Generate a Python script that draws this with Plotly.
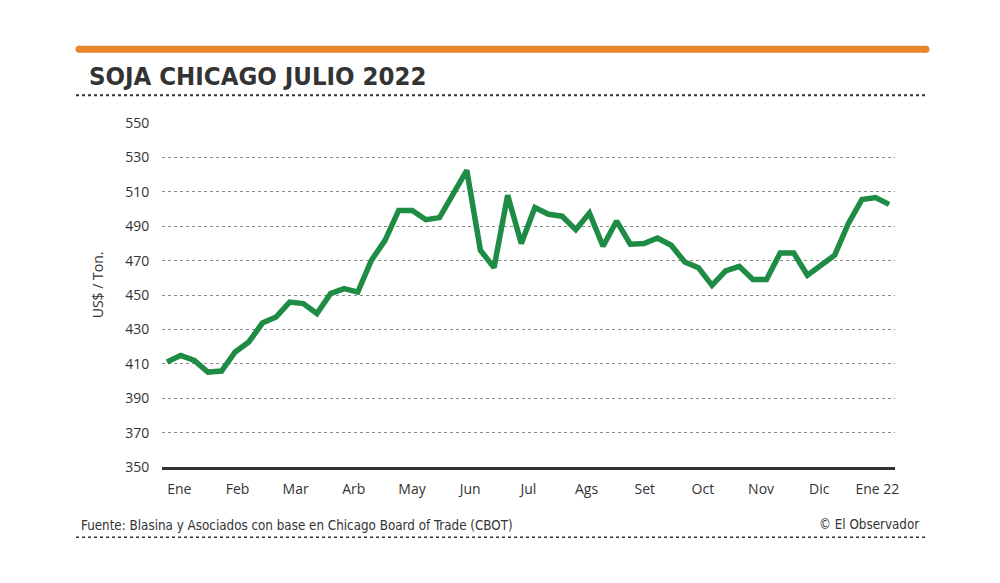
import plotly.graph_objects as go

# ---- data ----
values = [411.0, 414.9, 412.0, 405.2, 405.8, 416.9, 422.7, 433.7, 437.2, 445.9,
          445.0, 439.2, 450.8, 453.7, 451.7, 470.2, 481.8, 499.2, 499.2, 493.8,
          495.0, 509.0, 522.5, 476.0, 465.9, 508.0, 479.9, 500.8, 496.9, 495.8,
          488.0, 497.7, 478.3, 493.0, 479.5, 479.9, 483.1, 478.9, 469.2, 465.9,
          455.6, 464.0, 466.7, 459.0, 459.0, 474.4, 474.4, 461.5, 467.8, 473.1,
          491.5, 505.5, 506.6, 502.7]
weeks = list(range(len(values)))
month_labels = ["Ene", "Feb", "Mar", "Arb", "May", "Jun", "Jul", "Ags", "Set",
                "Oct", "Nov", "Dic", "Ene 22"]
y_ticks = [350, 370, 390, 410, 430, 450, 470, 490, 510, 530, 550]

title = "SOJA CHICAGO JULIO 2022"
source = "Fuente: Blasina y Asociados con base en Chicago Board of Trade (CBOT)"
credit = "© El Observador"
ytitle = "US$ / Ton."

# ---- layout geometry (window pixels; page body has an 8px margin) ----
OFF = 8
W, H = 1000, 583
PLOT_L, PLOT_R, PLOT_T, PLOT_B = 162, 895, 122.7, 466.7
L = PLOT_L - OFF
T = PLOT_T - OFF
R = W - (PLOT_R - OFF)
B = H - (PLOT_B - OFF)
PW, PH = PLOT_R - PLOT_L, PLOT_B - PLOT_T


def px(x):
    return (x - PLOT_L) / PW


def py(y):
    return (PLOT_B - y) / PH


month_pos = [0.9 + 4.27 * i for i in range(len(month_labels))]

cond = "Liberation Sans Narrow, DejaVu Sans Condensed, sans-serif"
dark = "#333333"

fig = go.Figure()
fig.add_trace(go.Scatter(
    x=weeks, y=values, mode="lines",
    line=dict(color="#1E8C45", width=5.5, shape="linear"),
    hoverinfo="skip", showlegend=False, cliponaxis=False,
))

shapes = [
    # orange bar
    dict(type="rect", xref="paper", yref="paper", x0=px(79), x1=px(926),
         y0=py(52.5), y1=py(45.5), fillcolor="#E8842C", line=dict(width=0), layer="above"),
    dict(type="circle", xref="paper", yref="paper", x0=px(75.5), x1=px(82.5),
         y0=py(52.5), y1=py(45.5), fillcolor="#E8842C", line=dict(width=0)),
    dict(type="circle", xref="paper", yref="paper", x0=px(922.5), x1=px(929.5),
         y0=py(52.5), y1=py(45.5), fillcolor="#E8842C", line=dict(width=0)),
    # dotted line under title
    dict(type="line", xref="paper", yref="paper", x0=px(76), x1=px(925),
         y0=py(95), y1=py(95), line=dict(color=dark, width=2, dash="dot")),
    # dotted line under footer
    dict(type="line", xref="paper", yref="paper", x0=px(76), x1=px(925),
         y0=py(537), y1=py(537), line=dict(color=dark, width=1.5, dash="dot")),
]

annotations = [
    dict(text="<b>" + title + "</b>", xref="paper", yref="paper", x=px(87), y=py(75.5),
         xanchor="left", yanchor="middle", showarrow=False,
         font=dict(family=cond, size=25.5, color=dark)),
    dict(text=source, xref="paper", yref="paper", x=px(79), y=py(525),
         xanchor="left", yanchor="middle", showarrow=False,
         font=dict(family=cond, size=13.3, color=dark)),
    dict(text=credit, xref="paper", yref="paper", x=px(921), y=py(524),
         xanchor="right", yanchor="middle", showarrow=False,
         font=dict(family=cond, size=13.3, color=dark)),
    dict(text=ytitle, xref="paper", yref="paper", x=px(97), y=py(285),
         xanchor="center", yanchor="middle", showarrow=False, textangle=-90,
         font=dict(family="Open Sans, sans-serif", size=14, color=dark)),
]

fig.update_layout(
    width=W, height=H,
    margin=dict(l=L, r=R, t=T, b=B, pad=0),
    paper_bgcolor="white", plot_bgcolor="white",
    shapes=shapes, annotations=annotations,
    font=dict(family="Open Sans, sans-serif", size=14, color=dark),
    xaxis=dict(
        range=[-0.37, 53.43], tickmode="array", tickvals=month_pos, ticktext=month_labels,
        showgrid=False, zeroline=False, showline=True, linecolor=dark, linewidth=3,
        ticks="outside", ticklen=7, tickcolor="rgba(0,0,0,0)",
        tickfont=dict(family="Open Sans, sans-serif", size=14, color=dark),
        fixedrange=True,
    ),
    yaxis=dict(
        range=[350, 550], tickmode="array", tickvals=y_ticks,
        showgrid=True, gridcolor="#8a8a8a", gridwidth=1, griddash="dot",
        zeroline=False, showline=False,
        ticks="outside", ticklen=9, tickcolor="rgba(0,0,0,0)",
        tickfont=dict(family="Open Sans, sans-serif", size=14, color=dark),
        fixedrange=True,
    ),
)

fig.write_html("out.html", config={"displayModeBar": False})
